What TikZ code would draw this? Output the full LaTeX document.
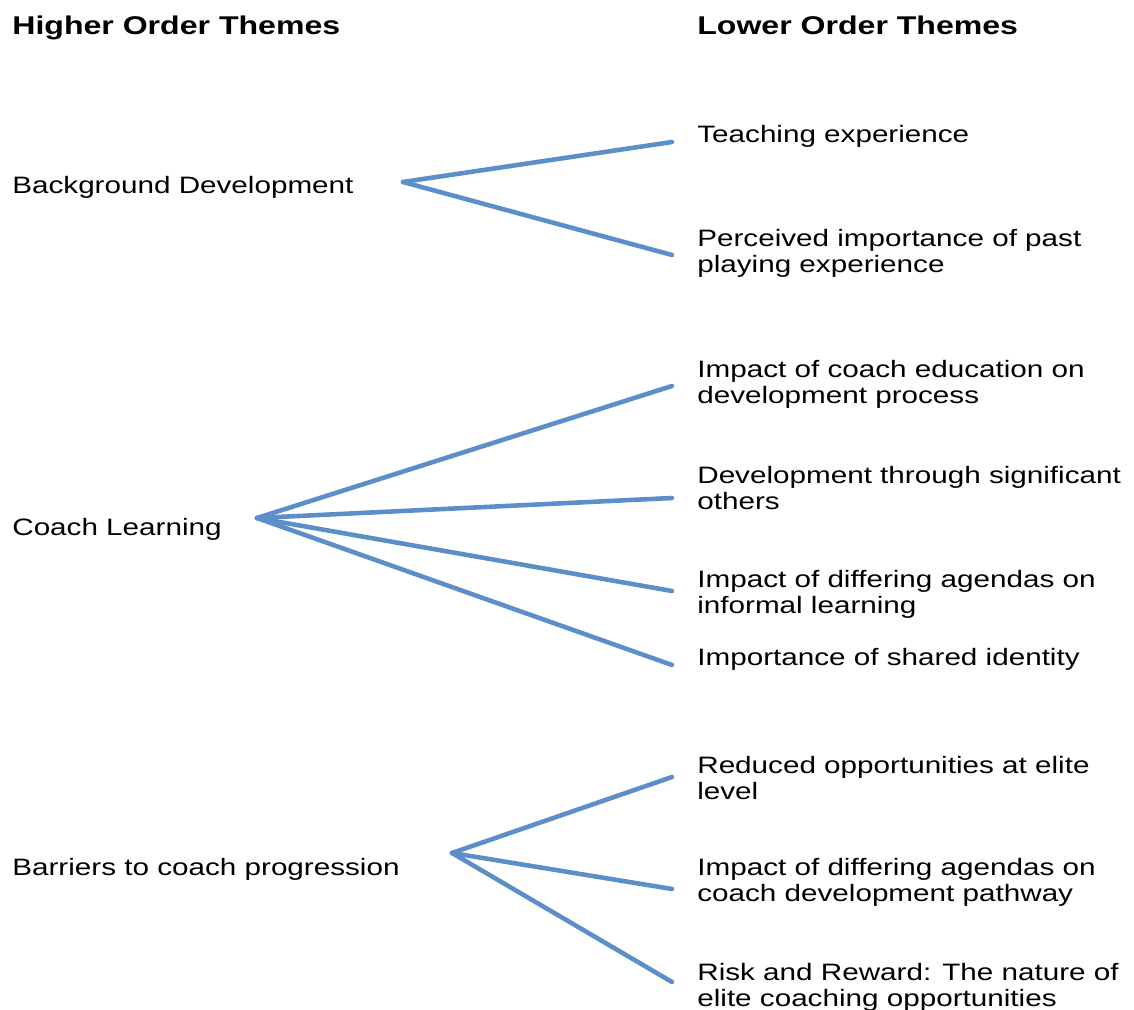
\documentclass[tikz,border=0pt]{standalone}
\usepackage{fontspec}
\setmainfont{Liberation Sans}[FakeStretch=1.25]
\definecolor{themeblue}{RGB}{92,142,201}
\tikzset{
  theme/.style={anchor=west,inner sep=0pt,align=left,font=\fontsize{13.5}{14.8}\selectfont},
  heading/.style={anchor=base west,inner sep=0pt,font=\fontsize{14.6}{16}\selectfont\bfseries},
  branch/.style={themeblue,line width=2.6pt,line cap=round}
}
\begin{document}
\begin{tikzpicture}[x=0.02cm,y=-0.02cm]
    \useasboundingbox (0,0) rectangle (1134,1010);
    \node[heading] (hot) at (12,35) {Higher Order Themes};
    \node[heading] (lot) at (697,35) {Lower Order Themes};

    \node[theme] (bd) at (12,187) {Background Development};
    \node[theme] (cl) at (12,529) {Coach Learning};
    \node[theme] (bp) at (12,869) {Barriers to coach progression};

    \coordinate (bdx) at (403,182);
    \coordinate (clx) at (257,518);
    \coordinate (bpx) at (452,853);

    \foreach \n/\y/\t/\a/\d in {te/136/Teaching experience/bdx/6,
      pi/253.5/Perceived importance of past\\playing experience/bdx/1.5,
      ce/384/Impact of coach education on\\development process/clx/2,
      so/488.5/Development through significant\\others/clx/9.5,
      il/594/Impact of differing agendas on\\informal learning/clx/-3,
      si/659/Importance of shared identity/clx/6,
      ro/778.5/Reduced opportunities at elite\\level/bpx/-1.5,
      dp/882.5/Impact of differing agendas on\\coach development pathway/bpx/6.5,
      rr/987/Risk and Reward: The nature of\\elite coaching opportunities/bpx/-5} {
      \node[theme] (\n) at (697,\y) {\t};
      \draw[branch] (\a) -- ([shift={(-25,\d)}]\n.west);
    }
  \end{tikzpicture}
\end{document}
